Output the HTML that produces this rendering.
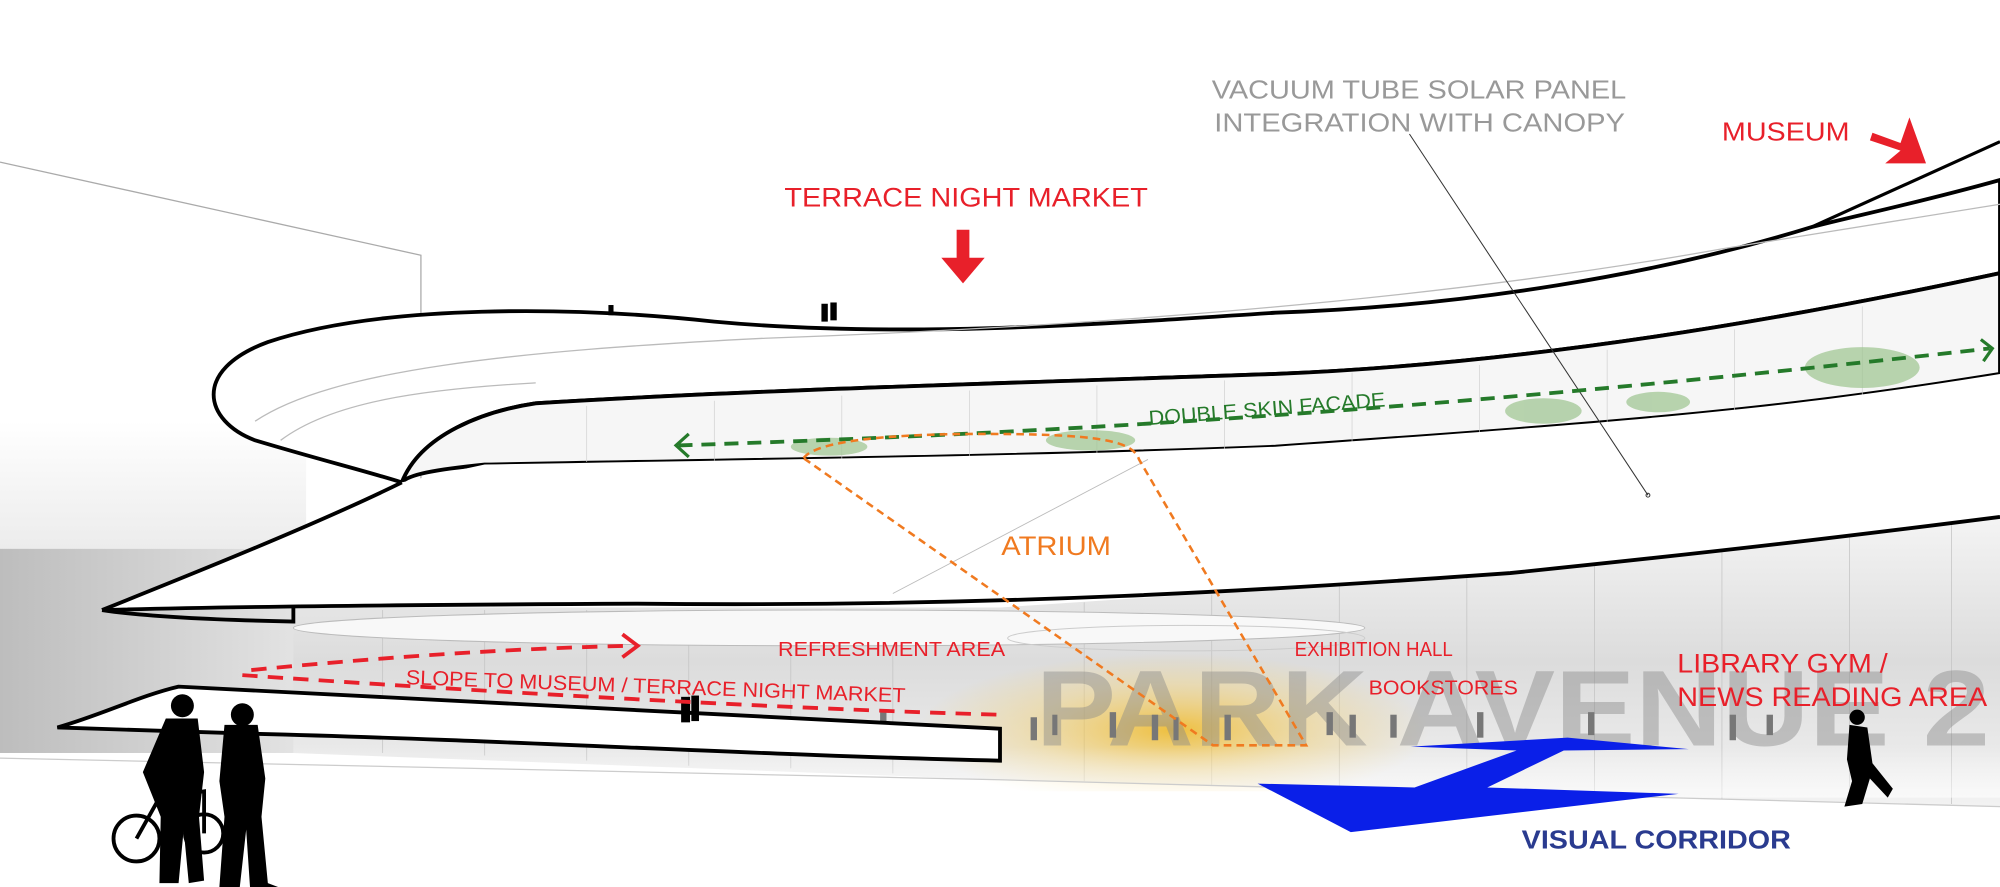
<!DOCTYPE html>
<html><head><meta charset="utf-8"><style>
html,body{margin:0;padding:0;background:#fff;overflow:hidden}
svg{display:block}
text{font-family:"Liberation Sans",sans-serif}
</style></head><body>
<svg width="2000" height="887" viewBox="0 0 1568 695" preserveAspectRatio="none" xmlns="http://www.w3.org/2000/svg">
<defs>
<linearGradient id="bldg" x1="0" y1="0" x2="1" y2="0"><stop offset="0" stop-color="#bdbdbd"/><stop offset="1" stop-color="#e4e4e4"/></linearGradient>
<linearGradient id="bldg2" x1="0" y1="0" x2="0" y2="1"><stop offset="0" stop-color="#fff"/><stop offset="1" stop-color="#ececec"/></linearGradient>
<linearGradient id="glass" x1="0" y1="0" x2="0" y2="1"><stop offset="0" stop-color="#f4f4f4"/><stop offset="0.5" stop-color="#dcdcdc"/><stop offset="1" stop-color="#f2f2f2"/></linearGradient>
<radialGradient id="glow" cx="0.5" cy="0.6" r="0.5"><stop offset="0" stop-color="#f0b820" stop-opacity="0.85"/><stop offset="0.6" stop-color="#f3d070" stop-opacity="0.4"/><stop offset="1" stop-color="#f3d070" stop-opacity="0"/></radialGradient>
<linearGradient id="fade" x1="0" y1="0" x2="0" y2="1"><stop offset="0" stop-color="#fff" stop-opacity="0"/><stop offset="1" stop-color="#fff" stop-opacity="1"/></linearGradient>
</defs>
<rect width="1568" height="695" fill="#fff"/>
<polyline points="0,127 330,200 330,420" fill="none" stroke="#aaa" stroke-width="1"/>
<rect x="0" y="330" width="240" height="100" fill="url(#bldg2)"/>
<rect x="0" y="430" width="240" height="160" fill="url(#bldg)"/>
<path d="M230,476 L784,476 L1184,449 L1568,405 L1568,632 L784,611 L230,590 Z" fill="url(#glass)"/>
<g stroke="#c4c4c4" stroke-width="0.6">
<line x1="300" y1="478" x2="300" y2="590"/><line x1="380" y1="478" x2="380" y2="592"/><line x1="460" y1="478" x2="460" y2="596"/><line x1="540" y1="478" x2="540" y2="600"/><line x1="620" y1="478" x2="620" y2="602"/><line x1="700" y1="478" x2="700" y2="606"/><line x1="850" y1="472" x2="850" y2="612"/><line x1="950" y1="466" x2="950" y2="615"/><line x1="1050" y1="459" x2="1050" y2="618"/><line x1="1150" y1="452" x2="1150" y2="620"/><line x1="1250" y1="440" x2="1250" y2="623"/><line x1="1350" y1="430" x2="1350" y2="626"/><line x1="1450" y1="418" x2="1450" y2="628"/><line x1="1530" y1="410" x2="1530" y2="630"/>
</g>
<ellipse cx="650" cy="492" rx="420" ry="14" fill="#f8f8f8" stroke="#bbb" stroke-width="0.8"/>
<ellipse cx="930" cy="500" rx="140" ry="10" fill="none" stroke="#ccc" stroke-width="0.8"/>
<rect x="720" y="500" width="400" height="120" fill="url(#glow)"/>
<text x="812" y="584" font-size="84" font-weight="bold" fill="#8a8a8a" fill-opacity="0.45" textLength="748" lengthAdjust="spacingAndGlyphs">PARK AVENUE 2</text>
<rect x="230" y="585" width="1338" height="40" fill="url(#fade)" opacity="0.6"/>
<path d="M0,594 L784,611 L1568,632" fill="none" stroke="#ccc" stroke-width="1"/>
<g fill="#777">
<rect x="690" y="558" width="5" height="16"/><rect x="808" y="562" width="5" height="18"/><rect x="825" y="560" width="4" height="16"/><rect x="870" y="558" width="5" height="20"/><rect x="903" y="560" width="5" height="20"/><rect x="920" y="562" width="4" height="18"/><rect x="960" y="560" width="5" height="20"/><rect x="1040" y="558" width="5" height="18"/><rect x="1058" y="560" width="5" height="18"/><rect x="1090" y="560" width="5" height="18"/><rect x="1158" y="558" width="5" height="20"/><rect x="1245" y="558" width="5" height="18"/><rect x="1356" y="560" width="5" height="20"/><rect x="1385" y="560" width="5" height="16"/>
</g>
<path d="M1568,141 C1500,160 1450,170 1420,178 C1300,215 1150,240 1000,245 C850,255 700,265 560,252 C450,240 300,238 210,268 C150,290 160,330 200,345 C250,360 290,370 315,378 C330,340 380,322 420,316 C600,305 800,300 1000,293 C1200,285 1400,250 1568,214 Z" fill="#fff" stroke="#000" stroke-width="3"/>
<path d="M1420,178 L1568,111" stroke="#000" stroke-width="2.5"/>
<path d="M200,330 C260,290 400,275 600,265 C800,258 1100,240 1350,195 L1568,160" fill="none" stroke="#bbb" stroke-width="1"/>
<path d="M220,345 C260,315 330,305 420,300" fill="none" stroke="#bbb" stroke-width="1"/>
<path d="M315,378 C330,340 380,322 420,316 C600,305 800,300 1000,293 C1200,285 1400,250 1568,214 L1568,293 C1400,320 1300,329 1000,350 C800,358 600,360 380,364 C340,368 320,372 315,378 Z" fill="#f6f6f6" stroke="#000" stroke-width="3"/>
<g stroke="#ccc" stroke-width="0.5">
<line x1="460" y1="318" x2="460" y2="362"/><line x1="560" y1="314" x2="560" y2="361"/><line x1="660" y1="310" x2="660" y2="360"/><line x1="760" y1="306" x2="760" y2="358"/><line x1="860" y1="302" x2="860" y2="355"/><line x1="960" y1="298" x2="960" y2="352"/><line x1="1060" y1="292" x2="1060" y2="346"/><line x1="1160" y1="286" x2="1160" y2="340"/><line x1="1260" y1="274" x2="1260" y2="332"/><line x1="1360" y1="258" x2="1360" y2="322"/><line x1="1460" y1="240" x2="1460" y2="310"/>
</g>
<g fill="#9cc48f" opacity="0.7">
<ellipse cx="650" cy="350" rx="30" ry="7"/><ellipse cx="855" cy="345" rx="35" ry="8"/><ellipse cx="1210" cy="322" rx="30" ry="10"/><ellipse cx="1300" cy="315" rx="25" ry="8"/><ellipse cx="1460" cy="288" rx="45" ry="16"/>
</g>
<path d="M315,378 C250,410 150,450 80,478 C150,476 300,474 500,473 C784,476 1000,462 1184,449 C1350,432 1450,420 1568,405 L1568,293 C1400,320 1300,329 1000,350 C800,358 600,360 380,364 Z" fill="#fff" stroke="none"/>
<path d="M315,378 C250,410 150,450 80,478" fill="none" stroke="#000" stroke-width="3"/>
<path d="M80,478 C150,476 300,474 500,473 C784,476 1000,462 1184,449 C1350,432 1450,420 1568,405" fill="none" stroke="#000" stroke-width="3"/>
<path d="M80,478 C120,484 180,486 230,487 L230,476" fill="none" stroke="#000" stroke-width="3"/>
<line x1="700" y1="465" x2="900" y2="360" stroke="#bbb" stroke-width="0.7"/>
<path d="M140,538 C250,544 500,556 784,571 L784,596 C600,592 400,580 200,575 L45,570 C80,560 110,545 140,538 Z" fill="#fff" stroke="#000" stroke-width="3"/>
<line x1="1105" y1="105" x2="1292" y2="388" stroke="#333" stroke-width="0.8"/>
<circle cx="1292" cy="388" r="1.5" fill="none" stroke="#333" stroke-width="0.8"/>
<g fill="#000"><rect x="477" y="239" width="4" height="8"/><rect x="644" y="238" width="5" height="14"/><rect x="651" y="237" width="5" height="14"/><rect x="534" y="546" width="7" height="20"/><rect x="542" y="545" width="6" height="20"/></g>
<path d="M197,525 C300,515 400,508 495,506" fill="none" stroke="#e8202a" stroke-width="3" stroke-dasharray="12,8"/>
<polyline points="488,497 500,506 488,515" fill="none" stroke="#e8202a" stroke-width="3"/>
<path d="M190,529 C350,540 600,555 784,560" fill="none" stroke="#e8202a" stroke-width="3" stroke-dasharray="12,8"/>
<path d="M532,349 C800,340 1100,325 1560,273" fill="none" stroke="#257a2a" stroke-width="3" stroke-dasharray="11,7"/>
<polyline points="540,340 530,349 540,358" fill="none" stroke="#257a2a" stroke-width="2.5"/>
<polyline points="1553,266 1562,273 1555,283" fill="none" stroke="#257a2a" stroke-width="2.5"/>
<path d="M630,359 C640,345 700,340 770,340 C860,340 888,345 893,360 L1024,584 L951,584 Z" fill="none" stroke="#f07a20" stroke-width="2" stroke-dasharray="6,4"/>
<polygon points="1106,585 1229,578 1324,587 1226,588 1166,617 1316,622 1059,652 986,614 1109,617 1189,588" fill="#0a1fe8"/>
<polygon points="750,180 760,180 760,202 772,202 755,222 738,202 750,202" fill="#e8202a"/>
<polygon points="1468,104 1490,112 1497,92 1510,128 1478,128 1490,118 1466,110" fill="#e8202a"/>
<text x="950" y="77" font-size="20" fill="#999" textLength="325" lengthAdjust="spacingAndGlyphs">VACUUM TUBE SOLAR PANEL</text>
<text x="952" y="103" font-size="20" fill="#999" textLength="322" lengthAdjust="spacingAndGlyphs">INTEGRATION WITH CANOPY</text>
<text x="1350" y="110" font-size="20" fill="#e8202a" textLength="100" lengthAdjust="spacingAndGlyphs">MUSEUM</text>
<text x="615" y="162" font-size="21" fill="#e8202a" textLength="285" lengthAdjust="spacingAndGlyphs">TERRACE NIGHT MARKET</text>
<text x="0" y="0" font-size="16" fill="#257a2a" textLength="186" lengthAdjust="spacingAndGlyphs" transform="translate(901,333) rotate(-4.5)">DOUBLE SKIN FACADE</text>
<text x="785" y="435" font-size="21" fill="#f07a20" textLength="86" lengthAdjust="spacingAndGlyphs">ATRIUM</text>
<text x="610" y="514" font-size="16" fill="#e8202a" textLength="178" lengthAdjust="spacingAndGlyphs">REFRESHMENT AREA</text>
<text x="0" y="0" font-size="16" fill="#e8202a" textLength="392" lengthAdjust="spacingAndGlyphs" transform="translate(318,536) rotate(2.1)">SLOPE TO MUSEUM / TERRACE NIGHT MARKET</text>
<text x="1015" y="514" font-size="16" fill="#e8202a" textLength="124" lengthAdjust="spacingAndGlyphs">EXHIBITION HALL</text>
<text x="1073" y="544" font-size="16" fill="#e8202a" textLength="117" lengthAdjust="spacingAndGlyphs">BOOKSTORES</text>
<text x="1315" y="527" font-size="21" fill="#e8202a" textLength="165" lengthAdjust="spacingAndGlyphs">LIBRARY GYM /</text>
<text x="1315" y="553" font-size="21" fill="#e8202a" textLength="243" lengthAdjust="spacingAndGlyphs">NEWS READING AREA</text>
<text x="1193" y="665" font-size="20" font-weight="bold" fill="#2a3b8f" textLength="211" lengthAdjust="spacingAndGlyphs">VISUAL CORRIDOR</text>
<g fill="#000">
<circle cx="143" cy="553" r="9"/>
<path d="M130,563 L155,563 L160,605 L156,640 L160,690 L148,692 L144,650 L140,692 L125,692 L126,640 L118,620 L112,605 Z"/>
<circle cx="190" cy="560" r="9"/>
<path d="M176,568 L202,568 L208,610 L205,640 L210,692 L218,695 L196,695 L193,650 L188,695 L172,695 L176,640 L172,612 Z"/>
</g>
<g fill="none" stroke="#000" stroke-width="3">
<circle cx="107" cy="657" r="18"/><circle cx="160" cy="653" r="15"/>
<path d="M107,657 L125,625 L160,620 L160,653 M125,625 L140,655"/>
</g>
<g fill="#000">
<circle cx="1456" cy="562" r="6"/>
<path d="M1450,568 L1464,570 L1468,598 L1484,618 L1480,625 L1466,610 L1460,630 L1446,632 L1452,612 L1448,595 Z"/>
</g>
</svg>
</body></html>
